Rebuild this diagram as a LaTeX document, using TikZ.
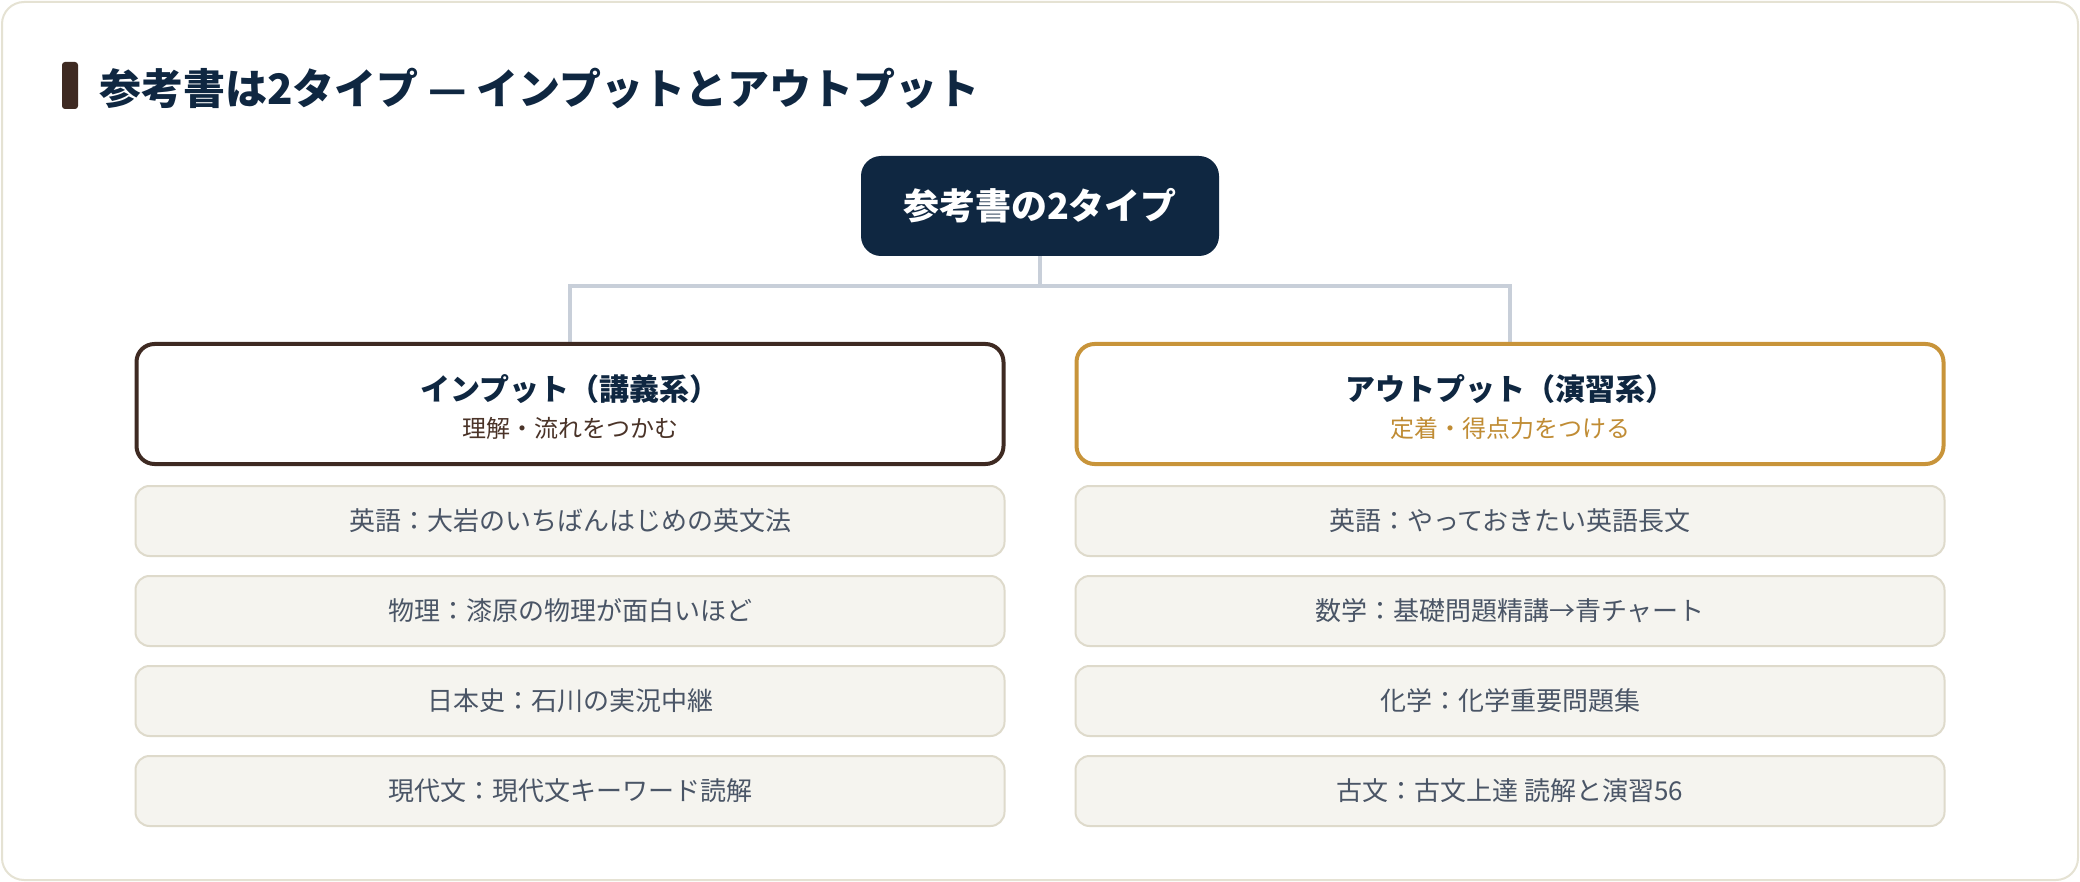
\documentclass[tikz,border=0pt]{standalone}
\usepackage{fontspec}
\setmainfont{Noto Sans CJK JP}
\usepackage{xcolor}
\usetikzlibrary{positioning,backgrounds}
\definecolor{navy}{HTML}{0F2741}
\definecolor{brownish}{HTML}{3E2A22}
\definecolor{brownsub}{HTML}{4A3328}
\definecolor{gold}{HTML}{C8943A}
\definecolor{goldsub}{HTML}{C08C34}
\definecolor{itembg}{HTML}{F5F4EF}
\definecolor{itemline}{HTML}{DEDACB}
\definecolor{itemtext}{HTML}{4A5566}
\definecolor{linkgray}{HTML}{C8CFD9}
\definecolor{framegray}{HTML}{E5E2D3}

\begin{document}
\begin{tikzpicture}[x=1pt,y=-1pt,
  rootbox/.style={rectangle,rounded corners=20pt,fill=navy,text=white,inner sep=0pt,
    minimum width=358pt,minimum height=100pt,font=\fontsize{36}{40}\selectfont\bfseries},
  headbox/.style={rectangle,rounded corners=18pt,line width=4pt,fill=white,inner sep=0pt,
    minimum width=867pt,minimum height=120pt},
  headtitle/.style={text=navy,inner sep=0pt,font=\fontsize{30}{34}\selectfont\bfseries},
  headsub/.style={inner sep=0pt,font=\fontsize{24}{28}\selectfont},
  bookbox/.style={rectangle,rounded corners=14pt,line width=2pt,draw=itemline,fill=itembg,
    inner sep=0pt,minimum width=869pt,minimum height=70pt,text=itemtext,
    font=\fontsize{26}{30}\selectfont},
  link/.style={line width=4pt,color=linkgray}]
\useasboundingbox (0,0) rectangle (2080,882);

% heading
\node[rectangle,rounded corners=3pt,fill=brownish,minimum width=16pt,minimum height=47pt,inner sep=0pt] (bar) at (70,85.5) {};
\node[anchor=west,inner sep=0pt,text=navy,font=\fontsize{42}{46}\selectfont\bfseries] (heading) at (99,89) {参考書は2タイプ — インプットとアウトプット};

% root and the two types
\node[rootbox] (root) at (1040,206) {参考書の2タイプ};
\node[headbox,draw=brownish] (inp) at (570,404) {};
\node[headbox,draw=gold] (out) at (1510,404) {};
\node[headtitle] (inpT) at (570,389) {インプット（講義系）};
\node[headsub,text=brownsub] (inpS) at (570,428) {理解・流れをつかむ};
\node[headtitle] (outT) at (1510,389) {アウトプット（演習系）};
\node[headsub,text=goldsub] (outS) at (1510,428) {定着・得点力をつける};

% books
\node[bookbox] (in1) at (570,521) {英語：大岩のいちばんはじめの英文法};
\node[bookbox] (in2) at (570,611) {物理：漆原の物理が面白いほど};
\node[bookbox] (in3) at (570,701) {日本史：石川の実況中継};
\node[bookbox] (in4) at (570,791) {現代文：現代文キーワード読解};
\node[bookbox] (out1) at (1510,521) {英語：やっておきたい英語長文};
\node[bookbox] (out2) at (1510,611) {数学：基礎問題精講→青チャート};
\node[bookbox] (out3) at (1510,701) {化学：化学重要問題集};
\node[bookbox] (out4) at (1510,791) {古文：古文上達 読解と演習56};

\begin{scope}[on background layer]
\draw[line width=2pt,draw=framegray,fill=white,rounded corners=22pt] (2,2) rectangle (2078,880);
\coordinate (fork) at (1040,286);
\draw[link] (root.south)--(fork);
\draw[link] (fork)-|(inp.north);
\draw[link] (fork)-|(out.north);
\end{scope}
\end{tikzpicture}
\end{document}
